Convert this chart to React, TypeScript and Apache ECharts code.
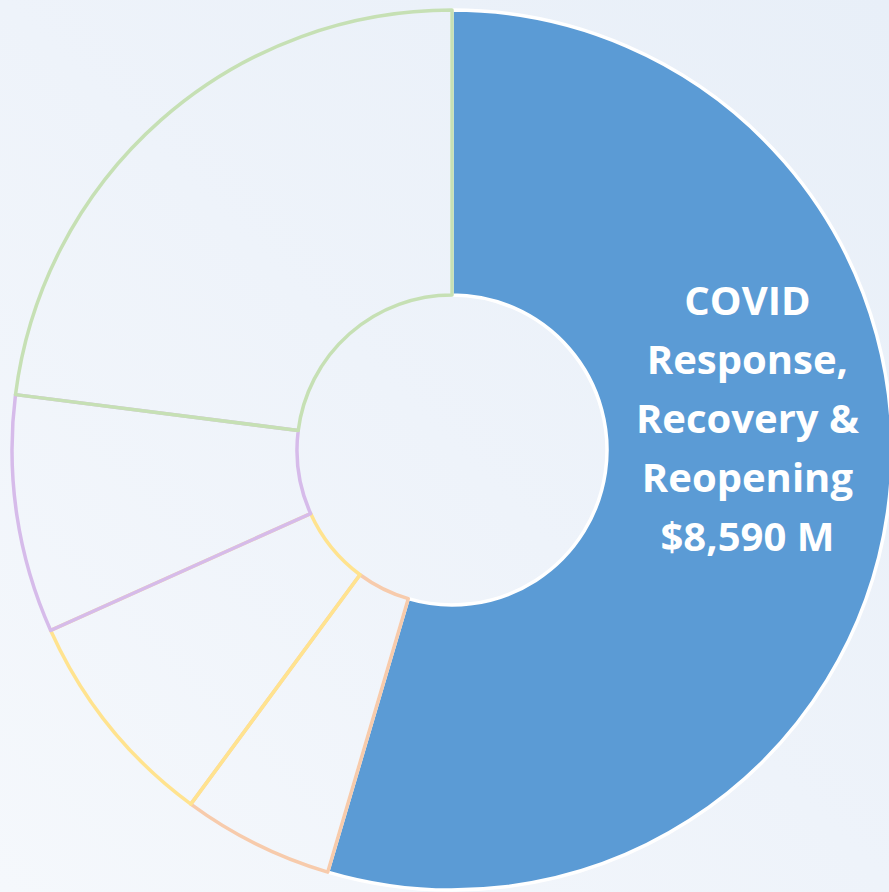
import React, { useEffect, useRef } from 'react';
import * as echarts from 'echarts';

const categories = [
  'COVID Response, Recovery & Reopening',
  'Segment B',
  'Segment C',
  'Segment D',
  'Segment E',
];
const values = [8590, 875, 1285, 1375, 3620];
const fillColors = ['#5B9BD5', 'transparent', 'transparent', 'transparent', 'transparent'];
const borderColors = ['#FFFFFF', '#F7CBAC', '#FFE38F', '#D6BBEA', '#C6E0B4'];
const labelLines = ['COVID', 'Response,', 'Recovery &', 'Reopening', '$8,590 M'];

export default function App() {
  const ref = useRef<HTMLDivElement>(null);
  useEffect(() => {
    const chart = echarts.init(ref.current!, null, { renderer: 'svg' });
    chart.setOption({
      animation: false,
      backgroundColor: 'transparent',
      series: [
        {
          type: 'pie',
          center: [452, 450],
          radius: [155, 440],
          startAngle: 90,
          clockwise: true,
          silent: true,
          emphasis: { disabled: true },
          labelLine: { show: false },
          labelLayout: { dx: -2, dy: -75 },
          data: categories.map((name, i) => ({
            name,
            value: values[i],
            itemStyle: {
              color: fillColors[i],
              borderColor: borderColors[i],
              borderWidth: 3.5,
            },
            label:
              i === 0
                ? {
                    show: true,
                    position: 'inside',
                    formatter: labelLines.join('\n'),
                    color: '#FFFFFF',
                    fontFamily: 'Open Sans',
                    fontWeight: 'bold',
                    fontSize: 40,
                    lineHeight: 59,
                    align: 'center',
                  }
                : { show: false },
          })),
        },
      ],
    });
    return () => chart.dispose();
  }, []);
  return (
    <div
      ref={ref}
      style={{
        position: 'absolute',
        top: 0,
        left: 0,
        width: 889,
        height: 892,
        background: 'linear-gradient(225deg, #E8EFF8 0%, #EEF3FA 50%, #F5F8FC 100%)',
      }}
    />
  );
}
